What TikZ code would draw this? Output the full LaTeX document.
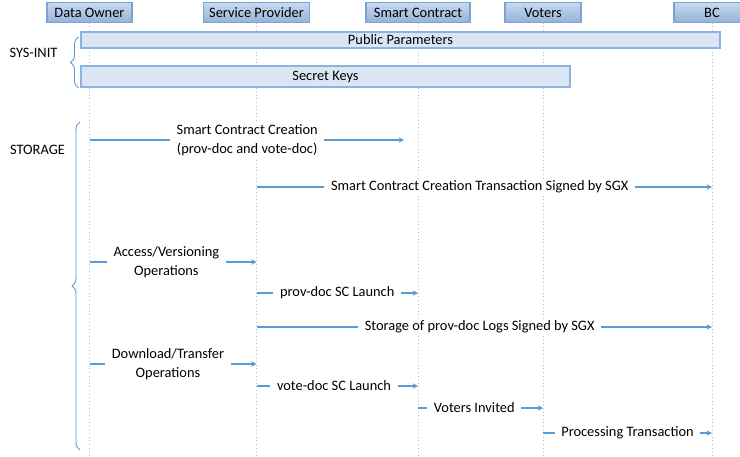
\documentclass[tikz,border=0pt]{standalone}
\usepackage{fontspec}
\setmainfont{Carlito}
\usetikzlibrary{arrows.meta,decorations.pathreplacing}

\definecolor{hdrtop}{HTML}{C6D9F1}
\definecolor{hdrbot}{HTML}{95B3D7}
\definecolor{hdrline}{HTML}{7BA3D4}
\definecolor{barfill}{HTML}{DCE6F2}
\definecolor{barline}{HTML}{8DB3E2}
\definecolor{msgblue}{HTML}{5B9BD5}
\definecolor{lifeblue}{HTML}{9DC3E6}

\newcommand{\pxu}{0.75pt}

\tikzset{
  every node/.style={font=\fontsize{10.8}{14.3}\selectfont},
  actor/.style={draw=hdrline, line width=0.8pt, top color=hdrtop, bottom color=hdrbot,
    minimum height=19.5*\pxu, inner sep=0pt},
  bar/.style={draw=barline, line width=0.8pt, fill=barfill, inner sep=0pt},
  life/.style={draw=lifeblue, dotted, line width=0.7pt},
  phase/.style={draw=msgblue, line width=0.7pt, decorate,
    decoration={brace, amplitude=6pt}},
  msg/.style={draw=msgblue, line width=1.1pt, -{Stealth[length=4pt,width=4pt]}},
  lbl/.style={fill=white, inner xsep=5pt, inner ysep=1pt, align=center}
}

\begin{document}
\begin{tikzpicture}[x=0.75pt,y=-0.75pt]
    \useasboundingbox (0,0) rectangle (740,457);

    % heads of the lifelines
    \node[actor, minimum width=85*\pxu] (do) at (89.5,12.5) {Data Owner};
    \node[actor, minimum width=106*\pxu] (sp) at (256.5,12.5) {Service Provider};
    \node[actor, minimum width=104*\pxu] (sc) at (418,12.5) {Smart Contract};
    \node[actor, minimum width=76*\pxu] (vo) at (543,12.5) {Voters};
    \node[actor, minimum width=76*\pxu] (bc) at (712,12.5) {BC};

    \coordinate (bot) at (0,457);
    \foreach \n in {do,sp,sc,vo,bc}
        \draw[life] (\n.south) -- (\n.south |- bot);

    % SYS-INIT
    \node[bar, minimum width=639*\pxu, minimum height=16*\pxu] (pp) at (400.5,40) {Public Parameters};
    \node[bar, minimum width=489*\pxu, minimum height=21*\pxu] (sk) at (325.5,76.5) {Secret Keys};

    \draw[phase] (78.5,88) -- (78.5,37);
    \node (sysinit) at (33.5,53) {SYS-INIT};

    % STORAGE
    \draw[phase] (80,450) -- (80,122);
    \node (storage) at (37.5,150) {STORAGE};

    \coordinate (y1) at (0,140);
    \coordinate (y2) at (0,187);
    \coordinate (y3) at (0,262);
    \coordinate (y4) at (0,293);
    \coordinate (y5) at (0,327);
    \coordinate (y6) at (0,364);
    \coordinate (y7) at (0,386);
    \coordinate (y8) at (0,408);
    \coordinate (y9) at (0,433);

    \draw[msg, shorten >=14*\pxu] (do |- y1) -- node[lbl, pos=0.48] {Smart Contract Creation\\(prov-doc and vote-doc)} (sc |- y1);
    \draw[msg] (sp |- y2) -- node[lbl, pos=0.49] {Smart Contract Creation Transaction Signed by SGX} (bc |- y2);
    \draw[msg] (do |- y3) -- node[lbl, pos=0.46] {Access/Versioning\\Operations} (sp |- y3);
    \draw[msg] (sp |- y4) -- node[lbl] {prov-doc SC Launch} (sc |- y4);
    \draw[msg] (sp |- y5) -- node[lbl, pos=0.49] {Storage of prov-doc Logs Signed by SGX} (bc |- y5);
    \draw[msg] (do |- y6) -- node[lbl, pos=0.47] {Download/Transfer\\Operations} (sp |- y6);
    \draw[msg] (sp |- y7) -- node[lbl, pos=0.48] {vote-doc SC Launch} (sc |- y7);
    \draw[msg] (sc |- y8) -- node[lbl, pos=0.45] {Voters Invited} (vo |- y8);
    \draw[msg] (vo |- y9) -- node[lbl] {Processing Transaction} (bc |- y9);

\end{tikzpicture}
\end{document}
